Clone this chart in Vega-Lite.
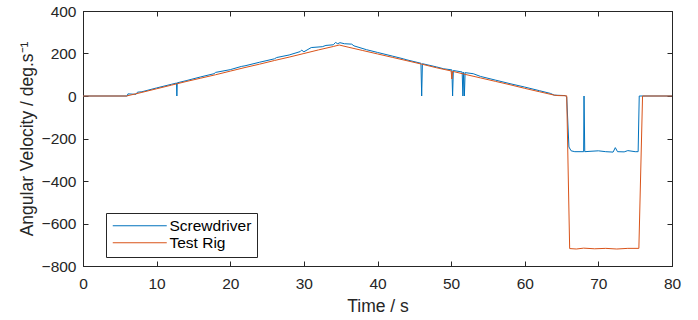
{
  "$schema": "https://vega.github.io/schema/vega-lite/v6.json",
  "width": 589,
  "height": 255,
  "autosize": {"type": "none"},
  "padding": {"left": 83, "top": 11, "right": 26, "bottom": 54},
  "background": "white",
  "config": {
    "font": "Liberation Sans",
    "view": {"stroke": "#262626", "strokeWidth": 1},
    "axis": {
      "grid": false,
      "domainColor": "#262626",
      "tickColor": "#262626",
      "labelColor": "#262626",
      "titleColor": "#262626",
      "labelFont": "Liberation Sans",
      "titleFont": "Liberation Sans",
      "labelFontSize": 15.5,
      "titleFontSize": 17.5,
      "titleFontWeight": "normal",
      "tickSize": -5
    }
  },
  "data": {
    "values": [
      {"t": 0, "v": 0, "s": "Screwdriver"},
      {"t": 6.0, "v": 0, "s": "Screwdriver"},
      {"t": 6.1, "v": 10, "s": "Screwdriver"},
      {"t": 7.2, "v": 8, "s": "Screwdriver"},
      {"t": 7.4, "v": 18, "s": "Screwdriver"},
      {"t": 8, "v": 20, "s": "Screwdriver"},
      {"t": 10, "v": 38, "s": "Screwdriver"},
      {"t": 12, "v": 55, "s": "Screwdriver"},
      {"t": 12.7, "v": 61, "s": "Screwdriver"},
      {"t": 12.75, "v": 0, "s": "Screwdriver"},
      {"t": 12.8, "v": 62, "s": "Screwdriver"},
      {"t": 14, "v": 72, "s": "Screwdriver"},
      {"t": 16, "v": 90, "s": "Screwdriver"},
      {"t": 17.8, "v": 105, "s": "Screwdriver"},
      {"t": 18, "v": 111, "s": "Screwdriver"},
      {"t": 20, "v": 124, "s": "Screwdriver"},
      {"t": 21.5, "v": 139, "s": "Screwdriver"},
      {"t": 22, "v": 142, "s": "Screwdriver"},
      {"t": 24, "v": 159, "s": "Screwdriver"},
      {"t": 26, "v": 175, "s": "Screwdriver"},
      {"t": 26.3, "v": 181, "s": "Screwdriver"},
      {"t": 28, "v": 193, "s": "Screwdriver"},
      {"t": 29.5, "v": 209, "s": "Screwdriver"},
      {"t": 29.7, "v": 216, "s": "Screwdriver"},
      {"t": 30, "v": 208, "s": "Screwdriver"},
      {"t": 31, "v": 228, "s": "Screwdriver"},
      {"t": 32.5, "v": 232, "s": "Screwdriver"},
      {"t": 33, "v": 238, "s": "Screwdriver"},
      {"t": 34, "v": 241, "s": "Screwdriver"},
      {"t": 34.3, "v": 252, "s": "Screwdriver"},
      {"t": 34.6, "v": 246, "s": "Screwdriver"},
      {"t": 34.9, "v": 251, "s": "Screwdriver"},
      {"t": 35.5, "v": 246, "s": "Screwdriver"},
      {"t": 36.5, "v": 244, "s": "Screwdriver"},
      {"t": 36.8, "v": 236, "s": "Screwdriver"},
      {"t": 38.5, "v": 218, "s": "Screwdriver"},
      {"t": 40, "v": 205, "s": "Screwdriver"},
      {"t": 42, "v": 188, "s": "Screwdriver"},
      {"t": 43.5, "v": 175, "s": "Screwdriver"},
      {"t": 44, "v": 170, "s": "Screwdriver"},
      {"t": 45.9, "v": 154, "s": "Screwdriver"},
      {"t": 46.0, "v": 0, "s": "Screwdriver"},
      {"t": 46.1, "v": 152, "s": "Screwdriver"},
      {"t": 48, "v": 137, "s": "Screwdriver"},
      {"t": 49, "v": 128, "s": "Screwdriver"},
      {"t": 50.1, "v": 123, "s": "Screwdriver"},
      {"t": 50.2, "v": 0, "s": "Screwdriver"},
      {"t": 50.3, "v": 120, "s": "Screwdriver"},
      {"t": 51.5, "v": 113, "s": "Screwdriver"},
      {"t": 51.6, "v": 0, "s": "Screwdriver"},
      {"t": 51.7, "v": 112, "s": "Screwdriver"},
      {"t": 51.8, "v": 0, "s": "Screwdriver"},
      {"t": 51.9, "v": 110, "s": "Screwdriver"},
      {"t": 53, "v": 105, "s": "Screwdriver"},
      {"t": 54, "v": 92, "s": "Screwdriver"},
      {"t": 56, "v": 75, "s": "Screwdriver"},
      {"t": 58, "v": 58, "s": "Screwdriver"},
      {"t": 60, "v": 42, "s": "Screwdriver"},
      {"t": 62, "v": 25, "s": "Screwdriver"},
      {"t": 63.5, "v": 12, "s": "Screwdriver"},
      {"t": 64, "v": 4, "s": "Screwdriver"},
      {"t": 65.5, "v": 2, "s": "Screwdriver"},
      {"t": 65.7, "v": -5, "s": "Screwdriver"},
      {"t": 66.0, "v": -240, "s": "Screwdriver"},
      {"t": 66.3, "v": -258, "s": "Screwdriver"},
      {"t": 66.8, "v": -262, "s": "Screwdriver"},
      {"t": 68.0, "v": -262, "s": "Screwdriver"},
      {"t": 68.05, "v": 0, "s": "Screwdriver"},
      {"t": 68.15, "v": -262, "s": "Screwdriver"},
      {"t": 69, "v": -260, "s": "Screwdriver"},
      {"t": 70, "v": -258, "s": "Screwdriver"},
      {"t": 71, "v": -262, "s": "Screwdriver"},
      {"t": 72, "v": -264, "s": "Screwdriver"},
      {"t": 72.3, "v": -243, "s": "Screwdriver"},
      {"t": 72.6, "v": -262, "s": "Screwdriver"},
      {"t": 73.5, "v": -263, "s": "Screwdriver"},
      {"t": 74, "v": -257, "s": "Screwdriver"},
      {"t": 75, "v": -262, "s": "Screwdriver"},
      {"t": 75.4, "v": -262, "s": "Screwdriver"},
      {"t": 75.55, "v": 0, "s": "Screwdriver"},
      {"t": 80, "v": 0, "s": "Screwdriver"},
      {"t": 0, "v": 0, "s": "Test Rig"},
      {"t": 5.9, "v": 0, "s": "Test Rig"},
      {"t": 8, "v": 17, "s": "Test Rig"},
      {"t": 10, "v": 34, "s": "Test Rig"},
      {"t": 12, "v": 51, "s": "Test Rig"},
      {"t": 14, "v": 68, "s": "Test Rig"},
      {"t": 16, "v": 84, "s": "Test Rig"},
      {"t": 18, "v": 100, "s": "Test Rig"},
      {"t": 20, "v": 117, "s": "Test Rig"},
      {"t": 22, "v": 134, "s": "Test Rig"},
      {"t": 24, "v": 150, "s": "Test Rig"},
      {"t": 26, "v": 167, "s": "Test Rig"},
      {"t": 28, "v": 183, "s": "Test Rig"},
      {"t": 30, "v": 200, "s": "Test Rig"},
      {"t": 32, "v": 217, "s": "Test Rig"},
      {"t": 34, "v": 233, "s": "Test Rig"},
      {"t": 34.8, "v": 240, "s": "Test Rig"},
      {"t": 36, "v": 230, "s": "Test Rig"},
      {"t": 38, "v": 214, "s": "Test Rig"},
      {"t": 40, "v": 198, "s": "Test Rig"},
      {"t": 42, "v": 182, "s": "Test Rig"},
      {"t": 44, "v": 166, "s": "Test Rig"},
      {"t": 46, "v": 150, "s": "Test Rig"},
      {"t": 48, "v": 133, "s": "Test Rig"},
      {"t": 50.0, "v": 118, "s": "Test Rig"},
      {"t": 50.1, "v": 80, "s": "Test Rig"},
      {"t": 50.2, "v": 116, "s": "Test Rig"},
      {"t": 52, "v": 101, "s": "Test Rig"},
      {"t": 54, "v": 85, "s": "Test Rig"},
      {"t": 56, "v": 69, "s": "Test Rig"},
      {"t": 58, "v": 53, "s": "Test Rig"},
      {"t": 60, "v": 36, "s": "Test Rig"},
      {"t": 62, "v": 20, "s": "Test Rig"},
      {"t": 64, "v": 4, "s": "Test Rig"},
      {"t": 64.5, "v": 2, "s": "Test Rig"},
      {"t": 65.7, "v": 1, "s": "Test Rig"},
      {"t": 66.1, "v": -718, "s": "Test Rig"},
      {"t": 67, "v": -720, "s": "Test Rig"},
      {"t": 68, "v": -716, "s": "Test Rig"},
      {"t": 69.5, "v": -719, "s": "Test Rig"},
      {"t": 71, "v": -717, "s": "Test Rig"},
      {"t": 72.5, "v": -720, "s": "Test Rig"},
      {"t": 74, "v": -717, "s": "Test Rig"},
      {"t": 75.5, "v": -717, "s": "Test Rig"},
      {"t": 76.0, "v": 0, "s": "Test Rig"},
      {"t": 80, "v": 0, "s": "Test Rig"}
    ]
  },
  "layer": [
    {
      "mark": {"type": "line", "strokeWidth": 1, "interpolate": "linear"},
      "encoding": {
        "x": {
          "field": "t", "type": "quantitative",
          "scale": {"domain": [0, 80], "nice": false},
          "axis": {"orient": "bottom", "values": [0, 10, 20, 30, 40, 50, 60, 70, 80], "labelPadding": 15, "title": "Time / s", "titlePadding": 6, "labelFlush": false}
        },
        "y": {
          "field": "v", "type": "quantitative",
          "scale": {"domain": [-800, 400], "nice": false},
          "axis": {"orient": "left", "values": [-800, -600, -400, -200, 0, 200, 400], "labelPadding": 12, "title": "Angular Velocity / deg.s⁻¹", "titlePadding": 5, "labelFlush": false}
        },
        "color": {
          "field": "s", "type": "nominal",
          "scale": {"domain": ["Screwdriver", "Test Rig"], "range": ["#0072BD", "#D95319"]},
          "legend": {
            "title": null,
            "orient": "none",
            "legendX": 23,
            "legendY": 202,
            "symbolType": "M-6,0H48",
            "symbolSize": 4,
            "symbolStrokeWidth": 1,
            "labelFontSize": 15.5,
            "labelColor": "#000000",
            "labelFont": "Liberation Sans",
            "labelOffset": 43,
            "padding": 5,
            "rowPadding": 0,
            "strokeColor": "#262626",
            "fillColor": "white",
            "cornerRadius": 0
          }
        }
      }
    },
    {
      "mark": {"type": "line", "strokeOpacity": 0},
      "encoding": {
        "x": {
          "field": "t", "type": "quantitative",
          "axis": {"orient": "top", "values": [0, 10, 20, 30, 40, 50, 60, 70, 80], "labels": false, "title": null}
        },
        "y": {
          "field": "v", "type": "quantitative",
          "axis": {"orient": "right", "values": [-800, -600, -400, -200, 0, 200, 400], "labels": false, "title": null}
        }
      }
    }
  ],
  "resolve": {"axis": {"x": "independent", "y": "independent"}}
}
